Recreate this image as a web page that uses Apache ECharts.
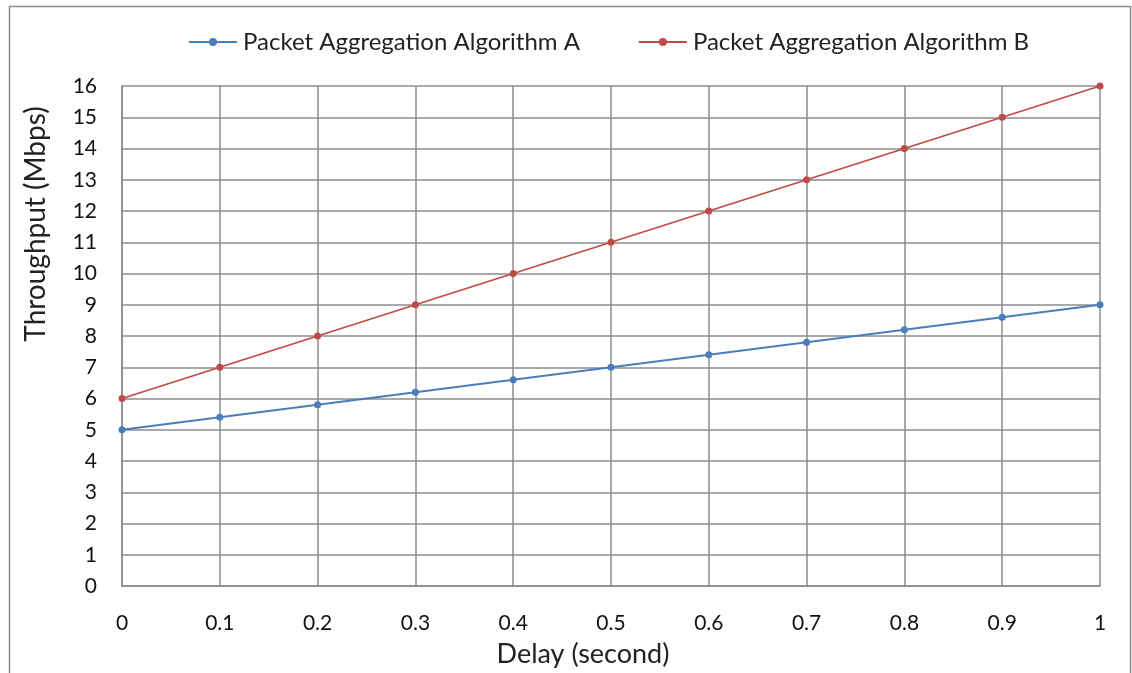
<!DOCTYPE html>
<html>
<head>
<meta charset="utf-8">
<script src="https://cdn.jsdelivr.net/npm/echarts@6/dist/echarts.min.js"></script>
<style>
  html, body { margin: 0; padding: 0; background: #fff; }
  #chart { width: 1132px; height: 673px; }
</style>
</head>
<body>
<div id="chart"></div>
<script>
// Delay values (seconds) on the x axis
const delays = [0, 0.1, 0.2, 0.3, 0.4, 0.5, 0.6, 0.7, 0.8, 0.9, 1];
// Throughput (Mbps) for each algorithm
const throughputA = [5, 5.4, 5.8, 6.2, 6.6, 7, 7.4, 7.8, 8.2, 8.6, 9];
const throughputB = [6, 7, 8, 9, 10, 11, 12, 13, 14, 15, 16];
const seriesNames = ['Packet Aggregation Algorithm A', 'Packet Aggregation Algorithm B'];
const xTitle = 'Delay (second)';
const yTitle = 'Throughput (Mbps)';

const toPairs = (ys) => delays.map((x, i) => [x, ys[i]]);

const chart = echarts.init(document.getElementById('chart'), null, { renderer: 'canvas' });

const font = 'Lato, "Open Sans", sans-serif';
const gridColor = '#8c8c8c';

chart.setOption({
  animation: false,
  backgroundColor: '#fff',
  graphic: [{
    type: 'rect',
    shape: { x: 9.5, y: 6.5, width: 1121, height: 680 },
    style: { fill: 'none', stroke: gridColor, lineWidth: 1.5 },
    silent: true,
    z: -1
  }],
  legend: {
    top: 25,
    left: 183,
    itemGap: 58,
    itemWidth: 48,
    itemHeight: 10,
    textStyle: { fontFamily: font, fontSize: 24, color: '#222', padding: [0, 0, 0, 1] },
    data: seriesNames
  },
  grid: { left: 122, right: 32, top: 86, bottom: 87, containLabel: false },
  xAxis: {
    type: 'value',
    min: 0, max: 1, interval: 0.1,
    name: xTitle,
    nameLocation: 'middle',
    nameGap: 55,
    nameTextStyle: { fontFamily: font, fontSize: 27, color: '#222', padding: [0, 56, 0, 0] },
    axisLine: { show: true, lineStyle: { color: gridColor, width: 1.5 } },
    axisTick: { show: false },
    splitLine: { show: true, lineStyle: { color: gridColor, width: 1.5 } },
    axisLabel: {
      margin: 27,
      fontFamily: font, fontSize: 21, color: '#111',
      formatter: (v) => String(Math.round(v * 10) / 10)
    }
  },
  yAxis: {
    type: 'value',
    min: 0, max: 16, interval: 1,
    name: yTitle,
    nameLocation: 'middle',
    nameGap: 72,
    nameRotate: 90,
    nameTextStyle: { fontFamily: font, fontSize: 28, color: '#222', padding: [0, 0, 0, 224] },
    axisLine: { show: true, lineStyle: { color: gridColor, width: 1.5 } },
    axisTick: { show: false },
    splitLine: { show: true, lineStyle: { color: gridColor, width: 1.5 } },
    axisLabel: { margin: 25, fontFamily: font, fontSize: 21, color: '#111' }
  },
  series: [
    {
      name: seriesNames[0],
      type: 'line',
      data: toPairs(throughputA),
      symbol: 'circle',
      symbolSize: 7,
      color: '#4a7ebb',
      lineStyle: { width: 1.8, color: '#4a7ebb' },
      itemStyle: { color: '#4a7ebb' }
    },
    {
      name: seriesNames[1],
      type: 'line',
      data: toPairs(throughputB),
      symbol: 'circle',
      symbolSize: 7,
      color: '#be4b48',
      lineStyle: { width: 1.8, color: '#be4b48' },
      itemStyle: { color: '#be4b48' }
    }
  ]
});
</script>
</body>
</html>
